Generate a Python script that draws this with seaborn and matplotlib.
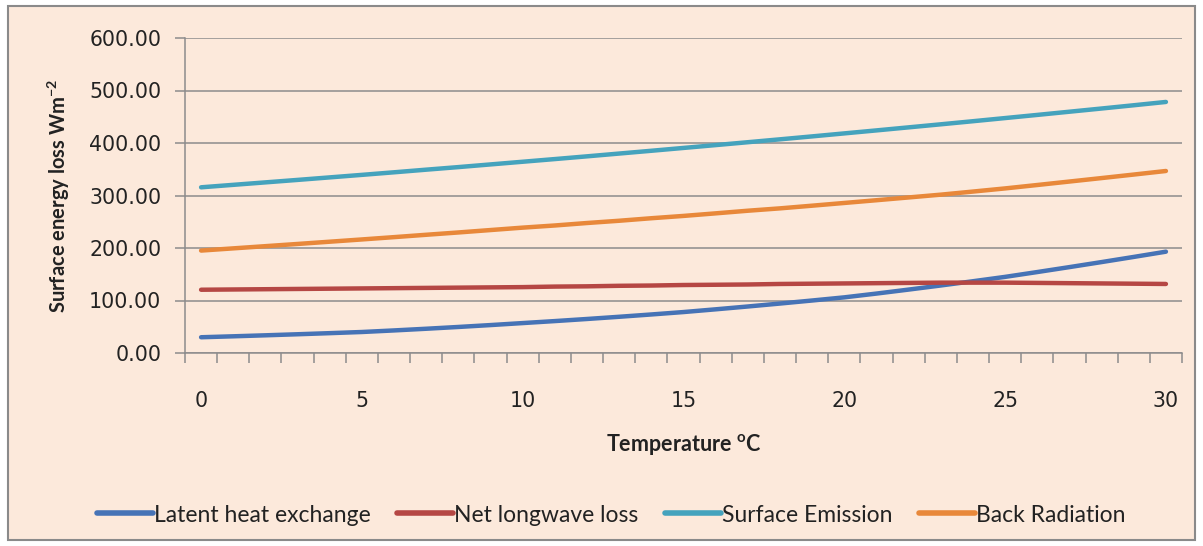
import numpy as np
import pandas as pd
import matplotlib
matplotlib.use("Agg")
import matplotlib.pyplot as plt
import seaborn as sns
from matplotlib.patches import Rectangle
from matplotlib.ticker import MultipleLocator, FixedLocator

#---------Data--------------------------------
temperature = list(range(0, 31))

latent_heat = [30.0, 31.8, 33.7, 35.7, 37.8, 40.0, 43.0, 46.2, 49.6, 53.2,
               57.0, 60.8, 64.8, 69.0, 73.4, 78.0, 83.2, 88.6, 94.2, 100.0,
               106.0, 113.2, 120.8, 128.6, 136.7, 145.0, 154.2, 163.6, 173.2, 183.0,
               193.0]

net_longwave = [120.5, 121.0, 121.5, 122.0, 122.5, 123.0, 123.5, 124.0, 124.5, 125.0,
                125.5, 126.5, 127.0, 128.0, 128.5, 129.5, 130.0, 130.5, 131.5, 132.0,
                132.5, 133.0, 133.5, 134.0, 134.0, 134.0, 133.5, 133.0, 132.5, 132.0,
                131.5]

surface_emission = [315.6, 320.3, 325.0, 329.7, 334.5, 339.3, 344.2, 349.2, 354.1, 359.2,
                    364.3, 369.4, 374.6, 379.9, 385.2, 390.6, 396.0, 401.5, 407.0, 412.6,
                    418.3, 424.0, 429.8, 435.6, 441.5, 447.5, 453.5, 459.6, 465.7, 471.9,
                    478.2]

back_radiation = [195.1, 199.3, 203.5, 207.7, 212.0, 216.3, 220.7, 225.2, 229.6, 234.2,
                  238.8, 242.9, 247.6, 251.9, 256.7, 261.1, 266.0, 271.0, 275.5, 280.6,
                  285.8, 291.0, 296.3, 301.6, 307.5, 313.5, 320.0, 326.6, 333.2, 339.9,
                  346.7]

series_names = ["Latent heat exchange", "Net longwave loss", "Surface Emission", "Back Radiation"]
colors = ["#4673B6", "#B54744", "#45A3BD", "#E8883A"]

df = pd.DataFrame({
    "Temperature": temperature * 4,
    "Value": latent_heat + net_longwave + surface_emission + back_radiation,
    "Series": np.repeat(series_names, len(temperature)),
})

#---------Style-----------
sns.set_style("white")
plt.rcParams["font.family"] = ["Lato", "DejaVu Sans"]
bg = "#FCE9DB"
grid_c = "#8C8C8C"
text_c = "#222222"

fig = plt.figure(figsize=(12.03, 5.46), dpi=100)
fig.patch.set_facecolor("white")
fig.patches.append(Rectangle((8 / 1203, 6 / 546), 1187 / 1203, 534 / 546,
                             transform=fig.transFigure, facecolor=bg,
                             edgecolor="#8A8A8A", linewidth=1.5, zorder=-10))

ax = fig.add_axes([185 / 1203, 1 - 353 / 546, 997 / 1203, 315 / 546])
ax.set_facecolor(bg)

#---------Lines-----------
sns.lineplot(data=df, x="Temperature", y="Value", hue="Series",
             hue_order=series_names, palette=colors, linewidth=3.2,
             ax=ax, legend=False)

#---------Axes-----------
ax.set_xlim(-0.5, 30.5)
ax.set_ylim(0, 600)
ax.yaxis.set_major_locator(MultipleLocator(100))
ax.yaxis.set_major_formatter(lambda v, pos: f"{v:.2f}")
ax.grid(axis="y", color=grid_c, linewidth=1.1)
ax.set_axisbelow(True)

ax.xaxis.set_major_locator(FixedLocator(list(range(0, 31, 5))))
ax.xaxis.set_minor_locator(FixedLocator(list(np.arange(-0.5, 31, 1))))
ax.tick_params(axis="x", which="major", bottom=False, pad=24, labelsize=14.8,
               colors=text_c, labelfontfamily="DejaVu Sans")
ax.tick_params(axis="x", which="minor", bottom=True, length=7, width=1.1, color=grid_c, direction="out")
ax.tick_params(axis="y", left=True, length=7, width=1.1, color=grid_c, pad=10,
               labelsize=14.8, labelcolor=text_c, labelfontfamily="DejaVu Sans")

for s in ["top", "right"]:
    ax.spines[s].set_visible(False)
for s in ["left", "bottom"]:
    ax.spines[s].set_color(grid_c)
    ax.spines[s].set_linewidth(1.1)

ax.set_xlabel("Temperature $^{\\mathregular{o}}$C", fontsize=15.5, fontweight="bold",
              labelpad=15, color=text_c)
ax.set_ylabel("Surface energy loss Wm$^{\\mathregular{-2}}$", fontsize=14.5, fontweight="bold",
              labelpad=12, color=text_c)

#---------Legend-----------
handles = [plt.Line2D([0], [0], color=c, linewidth=4) for c in colors]
leg = fig.legend(handles, series_names, loc="center", bbox_to_anchor=(0.508, 1 - 515 / 546),
                 ncol=4, frameon=False, fontsize=16.5, handlelength=2.45, handletextpad=0.05,
                 columnspacing=1.15)
for t in leg.get_texts():
    t.set_color(text_c)

plt.savefig("out.png", dpi=100, facecolor=fig.get_facecolor())
